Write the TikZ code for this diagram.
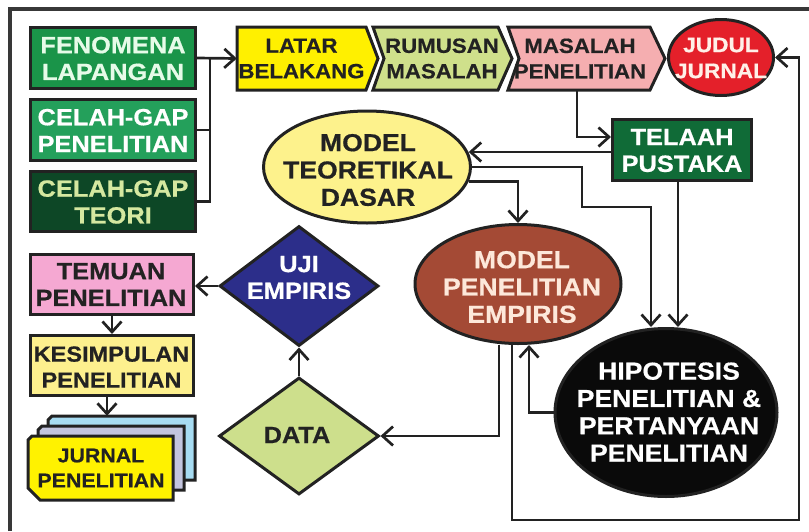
\documentclass[tikz,border=0pt]{standalone}
\usepackage{fontspec}
\setmainfont{Liberation Sans}[FakeStretch=1.08, BoldFeatures={FakeBold=0.6}]
\usetikzlibrary{arrows.meta,shapes.geometric}

\definecolor{ink}{HTML}{222222}
\definecolor{fenc}{HTML}{1A9449}
\definecolor{fentx}{HTML}{E6FBE8}
\definecolor{gapc}{HTML}{24A05B}
\definecolor{teoc}{HTML}{0D4726}
\definecolor{teotx}{HTML}{D5E8A0}
\definecolor{telc}{HTML}{106B37}
\definecolor{latc}{HTML}{FFF000}
\definecolor{rumc}{HTML}{CFE08B}
\definecolor{masc}{HTML}{F5AEB0}
\definecolor{judc}{HTML}{E4202A}
\definecolor{judtx}{HTML}{FFF0E8}
\definecolor{mtdc}{HTML}{FDF28C}
\definecolor{mpec}{HTML}{A44A35}
\definecolor{mpetx}{HTML}{FDE8DA}
\definecolor{hipc}{HTML}{0A0A0A}
\definecolor{ujic}{HTML}{2C2E8A}
\definecolor{datc}{HTML}{CDDF8C}
\definecolor{temc}{HTML}{F5A8D2}
\definecolor{kesc}{HTML}{FDF08E}
\definecolor{backc}{HTML}{A7DCF2}
\definecolor{midc}{HTML}{C3C5DE}
\definecolor{frontc}{HTML}{FFF200}

\begin{document}
\begin{tikzpicture}[x=1pt,y=-1pt,
  outline/.style={draw=ink, line width=3pt, line join=miter},
  shapebox/.style={outline, rectangle, inner sep=0pt},
  oval/.style={outline, ellipse, inner sep=0pt},
  rhomb/.style={outline, diamond, inner sep=0pt},
  conn/.style={draw=ink, line width=2.7pt},
  arr/.style={conn, -{Straight Barb[length=10.5pt,width=19pt]}},
  txt/.style={align=center, inner sep=0pt, text=ink,
    font=\bfseries\fontsize{23.5pt}{26.8pt}\selectfont},
  bigtxt/.style={txt, font=\bfseries\fontsize{24.6pt}{27.3pt}\selectfont},
  toptxt/.style={txt, font=\bfseries\fontsize{20.6pt}{25.5pt}\selectfont},
  area/.style={rectangle, inner sep=0pt, draw=none}
]
\useasboundingbox (0,0) rectangle (809,531);

% frame
\draw[draw=ink!90, line width=3.4pt] (10,531) -- (10,9) -- (809,9);

% left column of sources
\node[shapebox, fill=fenc, minimum width=165pt, minimum height=61pt] (fen) at (113,58) {};
\node[txt, text=fentx] (fen-t) at (113,58.5) {FENOMENA\\LAPANGAN};
\node[shapebox, fill=gapc, minimum width=165pt, minimum height=61pt] (gap) at (113,130) {};
\node[txt, text=white] (gap-t) at (113,130.5) {CELAH-GAP\\PENELITIAN};
\node[shapebox, fill=teoc, minimum width=165pt, minimum height=60pt] (teo) at (113,201.5) {};
\node[txt, text=teotx] (teo-t) at (113,202) {CELAH-GAP\\TEORI};

% top row of chevrons
\draw[outline, fill=latc] (237,27) -- (366,27) -- (378,58.5) -- (366,90) -- (237,90) -- cycle;
\node[toptxt, area, minimum width=129pt, minimum height=63pt] (latar) at (301.5,58.5) {LATAR\\BELAKANG};
\draw[outline, fill=rumc] (373,27) -- (498,27) -- (512,58.5) -- (498,90) -- (373,90) -- (384,58.5) -- cycle;
\node[toptxt, area, minimum width=114pt, minimum height=63pt] (rumusan) at (442,58.5) {RUMUSAN\\MASALAH};
\draw[outline, fill=masc] (508,27) -- (650,27) -- (665,58.5) -- (650,90) -- (508,90) -- (519,58.5) -- cycle;
\node[toptxt, area, minimum width=144pt, minimum height=63pt] (masalah) at (580,58.5) {MASALAH\\PENELITIAN};

\node[oval, fill=judc, minimum width=105pt, minimum height=76pt] (judul) at (721,57.5) {};
\node[toptxt, text=judtx, font=\bfseries\fontsize{21pt}{26pt}\selectfont] (judul-t) at (721,58) {JUDUL\\JURNAL};

% literature and models
\node[shapebox, fill=telc, minimum width=139pt, minimum height=61pt] (telaah) at (682,150) {};
\node[txt, text=white] (telaah-t) at (682,150.5) {TELAAH\\PUSTAKA};

\node[oval, fill=mtdc, minimum width=207pt, minimum height=112pt] (mtd) at (367,167) {};
\node[bigtxt] (mtd-t) at (368,170) {MODEL\\TEORETIKAL\\DASAR};

\node[oval, fill=mpec, minimum width=206pt, minimum height=119pt] (mpe) at (518,284) {};
\node[bigtxt, text=mpetx] (mpe-t) at (522,287) {MODEL\\PENELITIAN\\EMPIRIS};

\node[oval, fill=hipc, minimum width=222pt, minimum height=168pt] (hip) at (666,412.5) {};
\node[bigtxt, text=white] (hip-t) at (669,412) {HIPOTESIS\\PENELITIAN \&\\PERTANYAAN\\PENELITIAN};

% testing
\node[rhomb, fill=ujic, minimum width=159pt, minimum height=120pt] (uji) at (299,286) {};
\node[txt, text=white] (uji-t) at (299,277.5) {UJI\\EMPIRIS};
\node[rhomb, fill=datc, minimum width=160pt, minimum height=117pt] (data) at (299,436) {};
\node[txt] (data-t) at (297,435) {DATA};

% results column
\node[shapebox, fill=temc, minimum width=163pt, minimum height=60pt] (temuan) at (112,284) {};
\node[txt] (temuan-t) at (111,284.5) {TEMUAN\\PENELITIAN};
\node[shapebox, fill=kesc, minimum width=163pt, minimum height=60pt] (kes) at (112,365.5) {};
\node[txt, font=\bfseries\fontsize{21.8pt}{26pt}\selectfont] (kes-t) at (111.5,367) {KESIMPULAN\\PENELITIAN};

% stacked journal sheets
\draw[outline, fill=backc] (52,416) -- (195,416) -- (195,480) -- (48,480) -- (48,420) -- cycle;
\node[area, minimum width=147pt, minimum height=64pt] (jback) at (121.5,448) {};
\draw[outline, fill=midc] (42,426) -- (184,426) -- (184,490) -- (38,490) -- (38,430) -- cycle;
\draw[outline, fill=frontc] (32,436) -- (173,436) -- (173,500) -- (40,500) -- (28,488) -- (28,440) -- cycle;
\node[txt, font=\bfseries\fontsize{19.8pt}{25pt}\selectfont] (jurnal) at (101,468) {JURNAL\\PENELITIAN};

% connectors
\coordinate (jn) at (210,58);
\draw[arr] (fen.east) -- (latar.west);
\draw[conn] (gap.east) -- (gap.east -| jn);
\draw[conn] (teo.east) -| (jn);

\draw[arr] (masalah.south -| 577,0) |- (telaah.west |- 0,137);
\draw[arr] (telaah.west |- 0,152) -- (mtd.8.3 |- 0,152);
\draw[arr] (telaah.south -| 678,0) -- (hip.north -| 678,0);
\draw[arr] (mtd.east) -| (582,207) -| (hip.north -| 651,0);
\draw[arr] (mtd.-8.9) -| (mpe.north);
\draw[arr] (hip.west) -| (mpe.south -| 529,0);
\draw[arr] (mpe.south -| 499,0) |- (data.east);
\coordinate (corner) at (799,520);
\draw[arr] (mpe.south -| 512,0) |- (corner) |- (judul.east);

\draw[arr] (data.north) -- (uji.south);
\draw[arr] (uji.west) -- (temuan.east |- uji.west);
\draw[arr] (temuan.south) -- (kes.north);
\draw[arr] (kes.south -| 107,0) -- (jback.north -| 107,0);
\end{tikzpicture}
\end{document}
